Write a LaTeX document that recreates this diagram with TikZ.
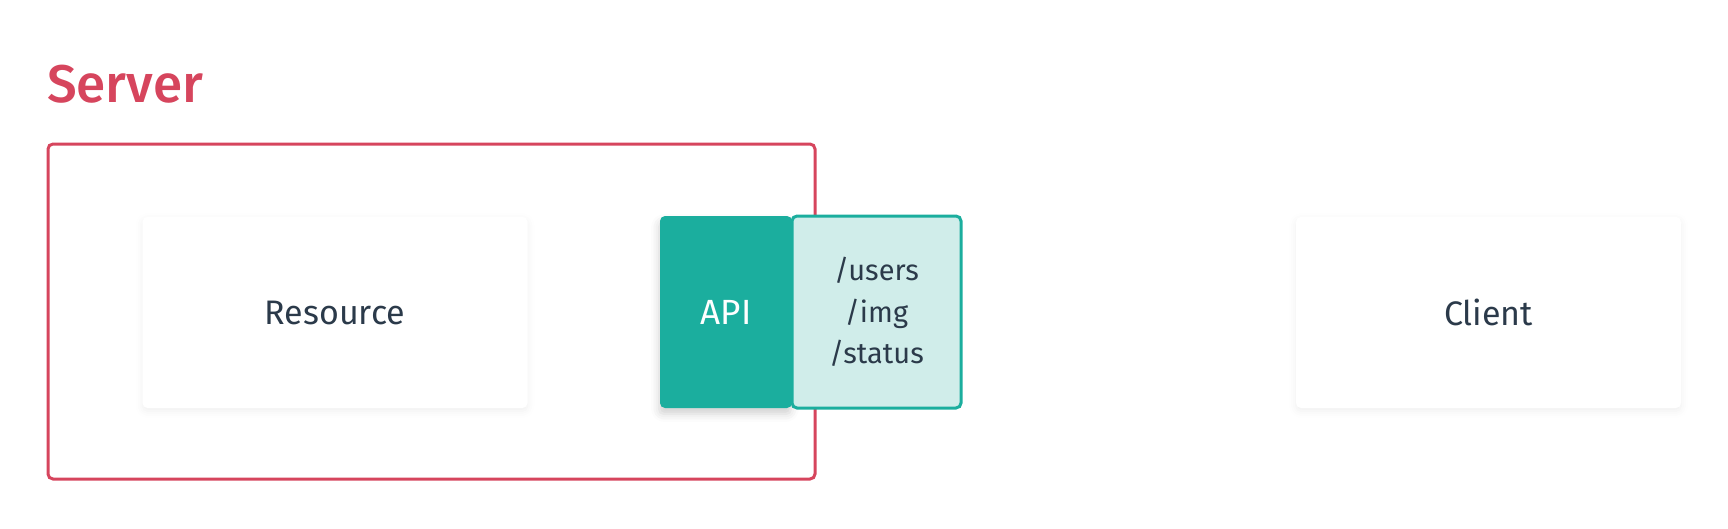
\documentclass[tikz,border=0pt]{standalone}
\usepackage{fontspec}
\setmainfont{Fira Sans}
\newfontfamily\medfont{Fira Sans}[UprightFont={* Medium}]
\usetikzlibrary{shadows.blur}
\definecolor{srvred}{RGB}{214,69,93}
\definecolor{teal1}{RGB}{27,174,158}
\definecolor{teal2}{RGB}{208,237,234}
\definecolor{ink}{RGB}{43,58,74}
\begin{document}
\begin{tikzpicture}[x=1pt,y=-1pt,
  card/.style={fill=white, rounded corners=5pt, minimum width=385pt, minimum height=191pt,
    text=ink, font=\fontsize{34}{38}\selectfont,
    blur shadow={shadow xshift=0pt, shadow yshift=-3pt, shadow blur radius=7pt, shadow opacity=6}},
  srvbox/.style={draw=srvred, line width=3pt, rounded corners=5pt},
  apibox/.style={fill=teal1, rounded corners=5pt, text=white, font=\fontsize{35}{38}\selectfont,
    blur shadow={shadow xshift=-1pt, shadow yshift=-6pt, shadow blur radius=8pt, shadow opacity=18}},
  pathbox/.style={draw=teal1, fill=teal2, line width=3pt, rounded corners=5pt, text=ink,
    align=center, font=\fontsize{29}{41.5}\selectfont}
]
\useasboundingbox (0,0) rectangle (1728,528);
\node[srvbox, minimum width=767pt, minimum height=335pt] (server) at (431.5,311.5) {};
\node[anchor=base west, text=srvred, font=\medfont\fontsize{53}{60}\selectfont, inner sep=0pt] (srvlabel) at (47,102) {Server};
\node[card] (res) at (335,312.5) {Resource};
\node[card] (client) at (1488.5,312.5) {Client};
\node[apibox, minimum width=132pt, minimum height=192pt] (api) at (726,312) {API};
\node[pathbox, minimum width=169pt, minimum height=192pt] (paths) at (876.5,312) {/users\\/img\\/status};
\end{tikzpicture}
\end{document}
